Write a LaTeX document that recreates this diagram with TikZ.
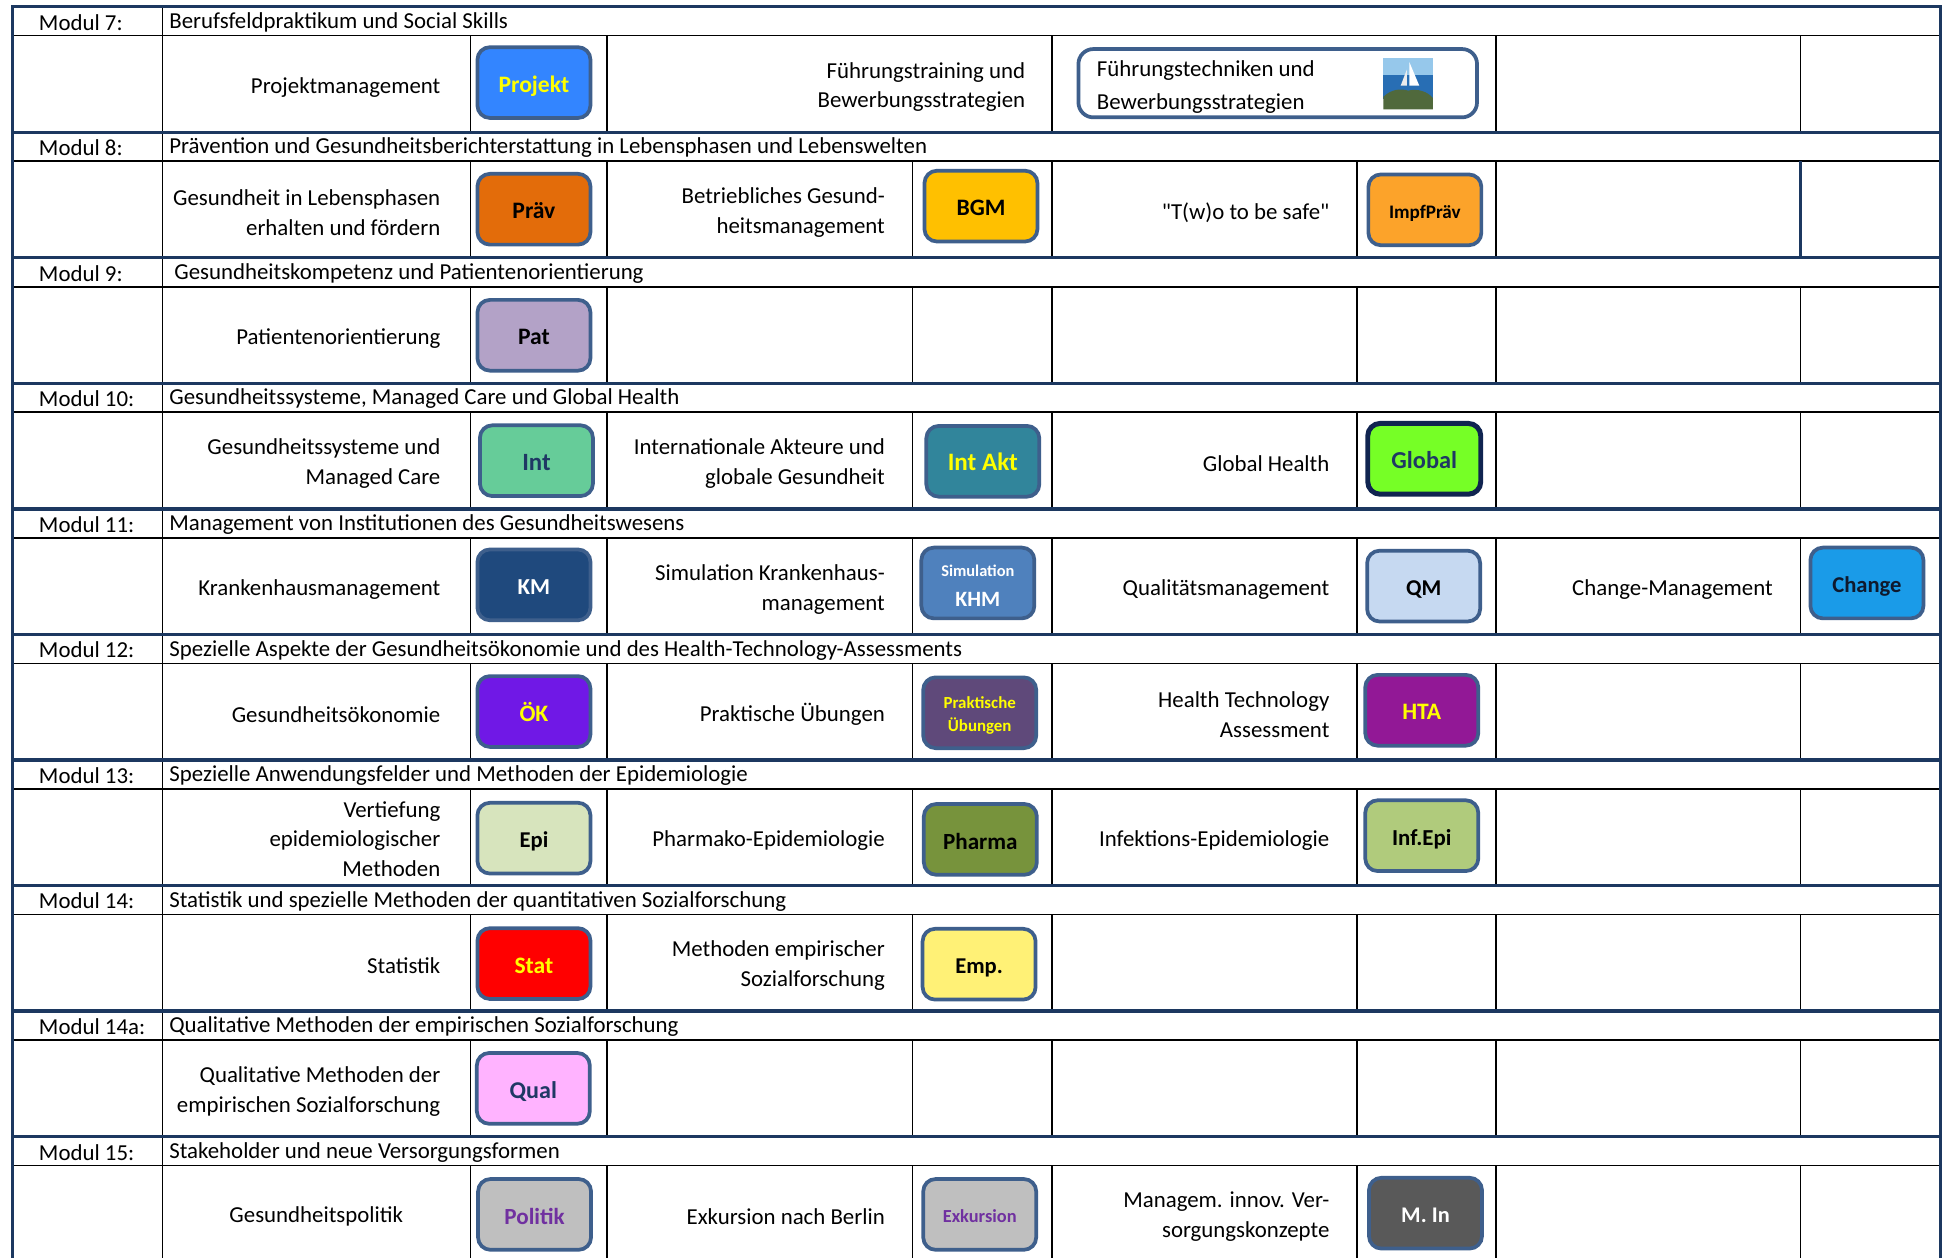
\documentclass[tikz,border=0pt]{standalone}
\usepackage{fontspec}
\setmainfont{Carlito}
\newfontfamily\qfont{Carlito}[Ligatures=TeXOff]
\definecolor{navy}{RGB}{28,56,96}
\definecolor{boxborder}{RGB}{62,95,140}
\definecolor{globalborder}{RGB}{16,36,80}
\definecolor{projblue}{RGB}{51,133,255}
\definecolor{pravorange}{RGB}{227,108,10}
\definecolor{bgmgold}{RGB}{255,192,0}
\definecolor{impforange}{RGB}{252,163,42}
\definecolor{patlav}{RGB}{179,162,199}
\definecolor{intgreen}{RGB}{102,204,153}
\definecolor{intakt}{RGB}{49,133,155}
\definecolor{globalgreen}{RGB}{118,255,38}
\definecolor{kmblue}{RGB}{31,73,125}
\definecolor{simblue}{RGB}{79,129,189}
\definecolor{qmblue}{RGB}{198,217,241}
\definecolor{changeblue}{RGB}{26,155,232}
\definecolor{okviolet}{RGB}{112,24,230}
\definecolor{praktpurple}{RGB}{95,73,122}
\definecolor{htapurple}{RGB}{146,24,150}
\definecolor{epigreen}{RGB}{215,228,189}
\definecolor{pharmagreen}{RGB}{119,147,60}
\definecolor{infgreen}{RGB}{176,203,124}
\definecolor{statred}{RGB}{255,0,0}
\definecolor{empyellow}{RGB}{255,241,118}
\definecolor{qualpink}{RGB}{255,179,255}
\definecolor{greybox}{RGB}{191,191,191}
\definecolor{politikpurple}{RGB}{112,48,160}
\definecolor{mingrey}{RGB}{89,89,89}
\definecolor{navytext}{RGB}{31,56,100}
\definecolor{yellowtext}{RGB}{255,255,0}
\definecolor{changetext}{RGB}{15,25,45}
\definecolor{sky}{RGB}{150,200,235}
\definecolor{sea}{RGB}{40,110,180}
\definecolor{shrub}{RGB}{80,105,60}
\tikzset{
  navyline/.style={draw=navy, line width=1.35pt},
  thinline/.style={draw=black, line width=0.65pt},
  lbl/.style={anchor=east, align=right, inner sep=0pt, font=\fontsize{9.2}{12}\selectfont},
  hdr/.style={anchor=west, inner sep=0pt, font=\fontsize{9.2}{12}\selectfont},
  badgebase/.style={draw=boxborder, line width=1.5pt, rounded corners=5pt,
    minimum width=45.5pt, minimum height=28.5pt, inner sep=0pt, align=center,
    font=\bfseries\fontsize{9.5}{11}\selectfont},
  badge/.style={badgebase, text height=7.8pt, text depth=0pt},
}
\begin{document}
\begin{tikzpicture}[x=0.5pt,y=-0.5pt]
\useasboundingbox (0,0) rectangle (1568,1013);
\fill[white] (0,0) rectangle (1568,1013);
% horizontal and vertical grid lines
\foreach \k in {0,...,9}{
  \pgfmathsetmacro\yt{5.4+101.1*\k}
  \pgfmathsetmacro\yh{\yt+23.3}
  \pgfmathsetmacro\yb{\yt+101.1}
  \draw[thinline] (10,\yh) -- (1563,\yh);
  \ifnum\k=0
    \foreach \xx in {379,489,847,1205,1450}{\draw[thinline] (\xx,\yh) -- (\xx,\yb);}
  \else
    \foreach \xx in {379,489,735,847,1093,1205,1450}{\draw[thinline] (\xx,\yh) -- (\xx,\yb);}
  \fi
}
\draw[navyline] (1450,130) -- (1450,207.6);
\draw[thinline] (131,5) -- (131,1020);
\foreach \k in {1,...,9}{
  \pgfmathsetmacro\yt{5.4+101.1*\k}
  \draw[navyline] (10,\yt) -- (1563,\yt);
}
% outer border
\draw[navyline] (10.2,1020) -- (10.2,5.4) -- (1562.6,5.4) -- (1562.6,1020);

% ---------- headers ----------
\node[hdr] (m7) at (31,18) {Modul 7:};
\node[hdr] (t7) at (136,18) {Berufsfeldpraktikum und Social Skills};
\node[hdr] (m8) at (31,119.1) {Modul 8:};
\node[hdr] (t8) at (136,119.1) {Prävention und Gesundheitsberichterstattung in Lebensphasen und Lebenswelten};
\node[hdr] (m9) at (31,220.2) {Modul 9:};
\node[hdr] (t9) at (140,220.2) {Gesundheitskompetenz und Patientenorientierung};
\node[hdr] (m10) at (31,321.3) {Modul 10:};
\node[hdr] (t10) at (136,321.3) {Gesundheitssysteme, Managed Care und Global Health};
\node[hdr] (m11) at (31,422.4) {Modul 11:};
\node[hdr] (t11) at (136,422.4) {Management von Institutionen des Gesundheitswesens};
\node[hdr] (m12) at (31,523.5) {Modul 12:};
\node[hdr] (t12) at (136,523.5) {Spezielle Aspekte der Gesundheitsökonomie und des Health-Technology-Assessments};
\node[hdr] (m13) at (31,624.6) {Modul 13:};
\node[hdr] (t13) at (136,624.6) {Spezielle Anwendungsfelder und Methoden der Epidemiologie};
\node[hdr] (m14) at (31,725.7) {Modul 14:};
\node[hdr] (t14) at (136,725.7) {Statistik und spezielle Methoden der quantitativen Sozialforschung};
\node[hdr] (m14a) at (31,826.8) {Modul 14a:};
\node[hdr] (t14a) at (136,826.8) {Qualitative Methoden der empirischen Sozialforschung};
\node[hdr] (m15) at (31,927.9) {Modul 15:};
\node[hdr] (t15) at (136,927.9) {Stakeholder und neue Versorgungsformen};

% ---------- Modul 7 ----------
\node[lbl] (l7a) at (355,70.1) {Projektmanagement};
\node[badge, fill=projblue, text=yellowtext] (b7a) at (430,66.5) {Projekt};
\node[lbl] (l7b) at (826,70.1) {Führungstraining und\\Bewerbungsstrategien};
\node[draw=boxborder, line width=1.5pt, rounded corners=6pt, fill=white,
      minimum width=160.5pt, minimum height=27.5pt] (b7b) at (1029,67) {};
\node[anchor=west, align=left, inner sep=0pt, font=\fontsize{9.2}{13}\selectfont] (t7b) at (883,70)
  {Führungstechniken und\\Bewerbungsstrategien};
% small photo
\fill[sky] (1114,47) rectangle (1154,60);
\fill[sea] (1114,60) rectangle (1154,80);
\fill[shrub] (1114,88) -- (1114,78) .. controls (1120,72) and (1128,71) .. (1134,73)
  .. controls (1142,71) and (1150,74) .. (1154,79) -- (1154,88) -- cycle;
\fill[white] (1135,50) -- (1135,69) -- (1143,69) -- cycle;
\fill[white!85!gray] (1133,56) -- (1128,69) -- (1133,69) -- cycle;

% ---------- Modul 8 ----------
\node[lbl] (l8a) at (355,171.2) {Gesundheit in Lebensphasen\\erhalten und fördern};
\node[badge, fill=pravorange, text=black] (b8a) at (430,168.5) {Präv};
\node[lbl] (l8b) at (713,171.2) {Betriebliches Gesund-\\heitsmanagement};
\node[badge, fill=bgmgold, text=black] (b8b) at (790,166) {BGM};
\node[lbl] (l8c) at (1071,171.2) {{\qfont "T(w)o to be safe"}};
\node[badge, fill=impforange, text=black, font=\bfseries\fontsize{7.7}{9}\selectfont, text height=6.6pt] (b8c) at (1147.5,169) {ImpfPräv};

% ---------- Modul 9 ----------
\node[lbl] (l9a) at (355,272.3) {Patientenorientierung};
\node[badge, fill=patlav, text=black] (b9a) at (430,270) {Pat};

% ---------- Modul 10 ----------
\node[lbl] (l10a) at (355,373.4) {Gesundheitssysteme und\\Managed Care};
\node[badge, fill=intgreen, text=navytext, font=\bfseries\fontsize{10}{11}\selectfont] (b10a) at (432,371) {Int};
\node[lbl] (l10b) at (713,373.4) {Internationale Akteure und\\globale Gesundheit};
\node[badge, fill=intakt, text=yellowtext, font=\bfseries\fontsize{10.1}{11}\selectfont] (b10b) at (791.5,371.5) {Int Akt};
\node[lbl] (l10c) at (1071,373.4) {Global Health};
\node[badge, draw=globalborder, line width=2pt, fill=globalgreen, text=navytext,
      font=\bfseries\fontsize{9.8}{11}\selectfont] (b10c) at (1147,369.5) {Global};

% ---------- Modul 11 ----------
\node[lbl] (l11a) at (355,474.5) {Krankenhausmanagement};
\node[badge, fill=kmblue, text=white, font=\bfseries\fontsize{9.2}{11}\selectfont] (b11a) at (430,471) {KM};
\node[lbl] (l11b) at (713,474.5) {Simulation Krankenhaus-\\management};
\node[badgebase, fill=simblue, text=white] (b11b) at (787.5,469.5)
  {{\fontsize{6.6}{8}\selectfont\rule{0pt}{6.6pt}Simulation}\\[1pt]{\fontsize{8.8}{10}\selectfont KHM}};
\node[lbl] (l11c) at (1071,474.5) {Qualitätsmanagement};
\node[badge, fill=qmblue, text=black, font=\bfseries\fontsize{9.1}{11}\selectfont] (b11c) at (1146.5,472) {QM};
\node[lbl] (l11d) at (1428,474.5) {Change-Management};
\node[badge, fill=changeblue, text=changetext, font=\bfseries\fontsize{9.1}{11}\selectfont] (b11d) at (1503.5,469.5) {Change};

% ---------- Modul 12 ----------
\node[lbl] (l12a) at (355,575.6) {Gesundheitsökonomie};
\node[badge, fill=okviolet, text=yellowtext] (b12a) at (430,573) {ÖK};
\node[lbl] (l12b) at (713,575.6) {Praktische Übungen};
\node[badgebase, fill=praktpurple, text=yellowtext, font=\bfseries\fontsize{6.8}{9.5}\selectfont] (b12b) at (789,574) {\rule{0pt}{7pt}Praktische\\Übungen};
\node[lbl] (l12c) at (1071,575.6) {Health Technology\\Assessment};
\node[badge, fill=htapurple, text=yellowtext] (b12c) at (1145,572) {HTA};

% ---------- Modul 13 ----------
\node[lbl] (l13a) at (355,675.7) {Vertiefung\\epidemiologischer\\Methoden};
\node[badge, fill=epigreen, text=black, font=\bfseries\fontsize{9.1}{11}\selectfont] (b13a) at (430,675) {Epi};
\node[lbl] (l13b) at (713,676.7) {Pharmako-Epidemiologie};
\node[badge, fill=pharmagreen, text=black, font=\bfseries\fontsize{9.3}{11}\selectfont] (b13b) at (789.5,676) {Pharma};
\node[lbl] (l13c) at (1071,676.7) {Infektions-Epidemiologie};
\node[badge, fill=infgreen, text=black, font=\bfseries\fontsize{9.2}{11}\selectfont] (b13c) at (1145,673) {Inf.Epi};

% ---------- Modul 14 ----------
\node[lbl] (l14a) at (355,777.8) {Statistik};
\node[badge, fill=statred, text=yellowtext] (b14a) at (430,776) {Stat};
\node[lbl] (l14b) at (713,777.8) {Methoden empirischer\\Sozialforschung};
\node[badge, fill=empyellow, text=black, font=\bfseries\fontsize{9.1}{11}\selectfont] (b14b) at (788.5,776.5) {Emp.};

% ---------- Modul 14a ----------
\node[lbl] (l14aa) at (355,878.9) {Qualitative Methoden der\\empirischen Sozialforschung};
\node[badge, fill=qualpink, text=navytext, font=\bfseries\fontsize{9.7}{11}\selectfont] (b14aa) at (429.5,876.5) {Qual};

% ---------- Modul 15 ----------
\node[lbl] (l15a) at (325,980) {Gesundheitspolitik};
\node[badge, fill=greybox, text=politikpurple, font=\bfseries\fontsize{9.3}{11}\selectfont] (b15a) at (430.5,978) {Politik};
\node[lbl] (l15b) at (713,980) {Exkursion nach Berlin};
\node[badge, fill=greybox, text=politikpurple, font=\bfseries\fontsize{7.4}{9}\selectfont, text height=6.6pt] (b15b) at (789,978) {Exkursion};
\node[lbl] (l15c) at (1071,980) {Managem. innov. Ver-\\sorgungskonzepte};
\node[badge, fill=mingrey, text=white, font=\bfseries\fontsize{9}{11}\selectfont] (b15c) at (1148,977) {M. In};
\end{tikzpicture}
\end{document}
